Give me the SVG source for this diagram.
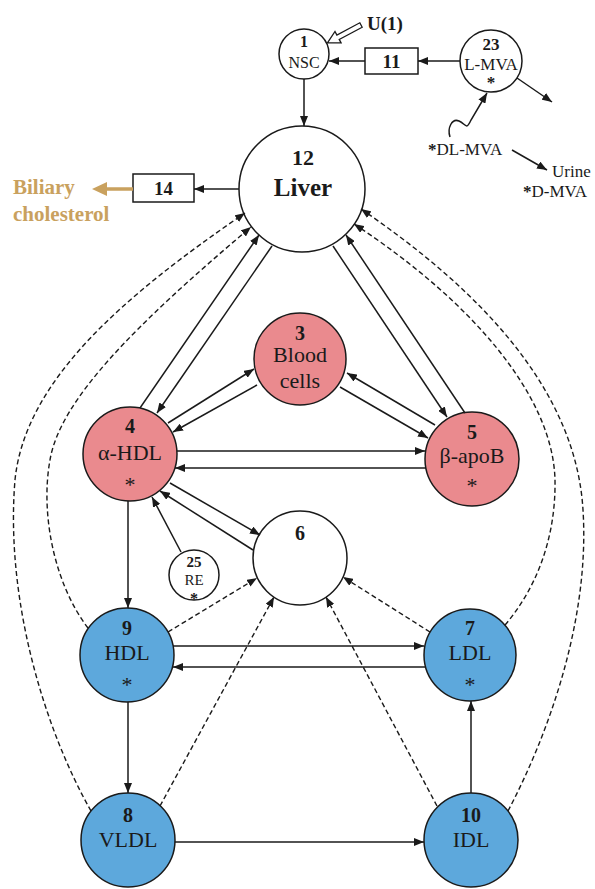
<svg xmlns="http://www.w3.org/2000/svg" width="595" height="889" viewBox="0 0 595 889">
<defs>
<style>
.n{stroke:#1a1a1a;stroke-width:1.5;fill:#fff}
.pk{fill:#EA8A8E}
.bl{fill:#5DA8DC}
.t{font-family:"Liberation Serif","Times New Roman",serif;fill:#1a1a1a;text-anchor:middle}
.st{text-anchor:start}
.b{font-weight:bold}
.s{stroke:#1a1a1a;stroke-width:1.5;fill:none;marker-end:url(#ah)}
.d{stroke:#1a1a1a;stroke-width:1.4;fill:none;stroke-dasharray:5 3;marker-end:url(#ah)}
.gold{fill:#C9A15E;font-family:"Liberation Serif","Times New Roman",serif;font-weight:bold;font-size:21px}
</style>
<marker id="ah" viewBox="0 0 10 8" refX="10" refY="4" markerWidth="10" markerHeight="8" markerUnits="userSpaceOnUse" orient="auto"><path d="M0,0 L10,4 L0,8 z" fill="#1a1a1a"/></marker>
</defs>
<rect width="595" height="889" fill="#fff"/>

<g id="node1"><circle class="n" cx="304" cy="54" r="25"/><text class="t b" x="304" y="47" font-size="16">1</text><text class="t" x="304" y="68" font-size="16">NSC</text></g>
<g id="u1"><polygon points="0,-2.5 26,-2.5 26,-6.5 38,0 26,6.5 26,2.5 0,2.5" fill="#fff" stroke="#1a1a1a" stroke-width="1.3" transform="translate(361,25) rotate(152)"/><text class="t b" x="385" y="30" font-size="19">U(1)</text></g>
<g id="node23"><circle class="n" cx="491" cy="61" r="31"/><text class="t b" x="491" y="50" font-size="17">23</text><text class="t" x="491" y="70" font-size="17">L-MVA</text><text class="t b" x="491" y="88" font-size="17">*</text></g>
<g id="box11"><rect class="n" x="365" y="48" width="53" height="26"/><text class="t b" x="391.5" y="68" font-size="19">11</text></g>
<g id="dlmva"><text class="t st" x="428" y="155" font-size="17"><tspan font-weight="bold">*</tspan>DL-MVA</text></g>
<g id="urine"><text class="t st" x="552" y="177" font-size="17">Urine</text><text class="t st" x="523" y="197" font-size="17"><tspan font-weight="bold">*</tspan>D-MVA</text></g>
<g id="node12"><circle class="n" cx="302" cy="189" r="63"/><text class="t b" x="303" y="165" font-size="22">12</text><text class="t b" x="303" y="196" font-size="25">Liver</text></g>
<g id="box14"><rect class="n" x="133" y="174" width="61" height="28"/><text class="t b" x="163.5" y="195" font-size="19">14</text></g>
<g id="biliary"><text class="gold" x="13" y="194">Biliary</text><text class="gold" x="13" y="221">cholesterol</text></g>
<g id="node3"><circle class="n pk" cx="300" cy="359" r="46"/><text class="t b" x="300" y="340" font-size="20">3</text><text class="t" x="300" y="362" font-size="22">Blood</text><text class="t" x="300" y="388" font-size="22">cells</text></g>
<g id="node4"><circle class="n pk" cx="130" cy="454" r="47"/><text class="t b" x="130" y="433" font-size="20">4</text><text class="t" x="130" y="460" font-size="22">α-HDL</text><text class="t" x="130" y="492" font-size="22">*</text></g>
<g id="node5"><circle class="n pk" cx="472" cy="459" r="47"/><text class="t b" x="472" y="439" font-size="20">5</text><text class="t" x="472" y="463" font-size="22">β-apoB</text><text class="t" x="472" y="493" font-size="22">*</text></g>
<g id="node6"><circle class="n" cx="300" cy="558" r="47"/><text class="t b" x="300" y="540" font-size="20">6</text></g>
<g id="node25"><circle class="n" cx="194" cy="575" r="25"/><text class="t b" x="194" y="567" font-size="15">25</text><text class="t" x="194" y="585" font-size="15">RE</text><text class="t b" x="194" y="604" font-size="16">*</text></g>
<g id="node9"><circle class="n bl" cx="127" cy="655" r="47"/><text class="t b" x="127" y="635" font-size="20">9</text><text class="t" x="127" y="660" font-size="22">HDL</text><text class="t" x="127" y="692" font-size="22">*</text></g>
<g id="node7"><circle class="n bl" cx="470" cy="655" r="46"/><text class="t b" x="470" y="635" font-size="20">7</text><text class="t" x="470" y="660" font-size="22">LDL</text><text class="t" x="470" y="692" font-size="22">*</text></g>
<g id="node8"><circle class="n bl" cx="128" cy="840" r="47"/><text class="t b" x="128" y="822" font-size="20">8</text><text class="t" x="128" y="847" font-size="22">VLDL</text></g>
<g id="node10"><circle class="n bl" cx="471" cy="840" r="47"/><text class="t b" x="471" y="822" font-size="20">10</text><text class="t" x="471" y="847" font-size="22">IDL</text></g>

<g id="connectors">
<path class="s" d="M304,79 L304,126"/>
<path class="s" d="M460,61 L418,61"/>
<path class="s" d="M365,61 L329,61"/>
<path class="s" d="M517,78 L552,102"/>
<path class="s" d="M450,137 C447,128 452,118 459,121 C466,124 466,131 471,120 L487,93"/>
<path class="s" d="M512,150 L547,170"/>
<path class="s" d="M239,189 L194,189"/>
<line x1="133" y1="189" x2="104" y2="189" stroke="#C9A15E" stroke-width="3.5"/>
<polygon points="92,189 107,182 107,196" fill="#C9A15E"/>

<path class="s" d="M140,408 L259,235"/>
<path class="s" d="M272,246 L157,413"/>
<path class="s" d="M333,246 L447,417"/>
<path class="s" d="M465,413 L346,235"/>
<path class="s" d="M168,423 L254,369"/>
<path class="s" d="M257,385 L173,432"/>
<path class="s" d="M435,425 L347,373"/>
<path class="s" d="M340,387 L428,438"/>
<path class="s" d="M177,451 L425,451"/>
<path class="s" d="M426,468 L175,468"/>
<path class="s" d="M170,483 L260,535"/>
<path class="s" d="M253,550 L160,491"/>
<path class="s" d="M181,552 L152,497"/>
<path class="s" d="M128,501 L128,608"/>
<path class="s" d="M173,646 L424,646"/>
<path class="s" d="M425,667 L173,667"/>
<path class="s" d="M128,702 L128,793"/>
<path class="s" d="M175,842 L424,842"/>
<path class="s" d="M471,793 L471,701"/>

<path class="d" d="M168,632 L257,578"/>
<path class="d" d="M160,806 L274,597"/>
<path class="d" d="M437,806 L326,597"/>
<path class="d" d="M430,632 L343,577"/>
<path class="d" d="M91,811 C45,730 5,600 15,480 C25,380 125,295 245,213"/>
<path class="d" d="M88,628 C55,585 40,515 50,460 C60,400 135,325 251,227"/>
<path class="d" d="M508,811 C548,735 590,620 583,510 C576,390 480,290 361,209"/>
<path class="d" d="M505,625 C535,590 556,540 555,480 C553,395 470,300 354,224"/>
</g>
</svg>
